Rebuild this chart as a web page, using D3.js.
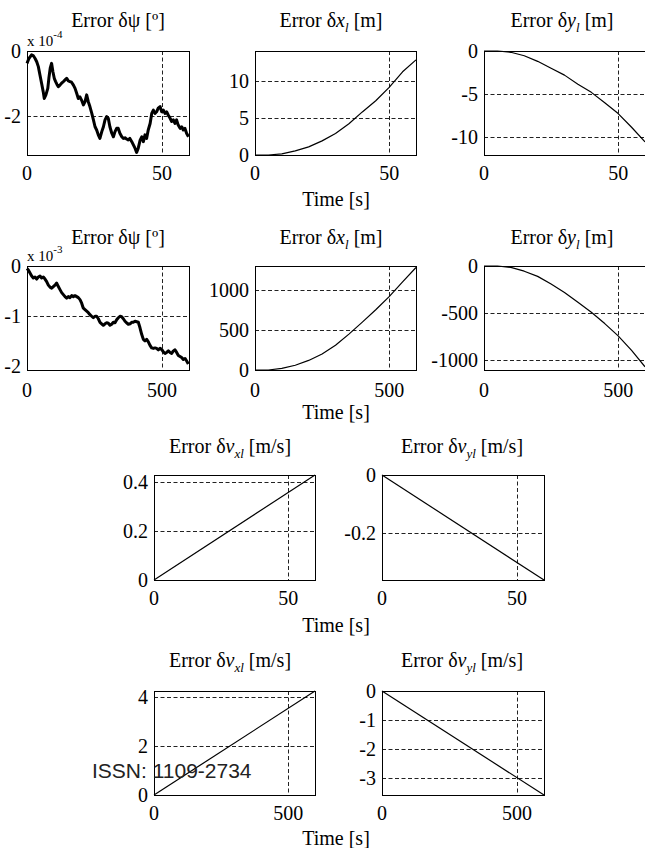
<!DOCTYPE html>
<html>
<head>
<meta charset="utf-8">
<script src="https://cdn.jsdelivr.net/npm/d3@7"></script>
<style>
  body { margin: 0; background: #fff; }
  svg { display: block; font-family: "Liberation Serif", "Times New Roman", serif; }
</style>
</head>
<body>
<svg id="chart" width="645" height="848"></svg>
<script>
// heading error, short run (x 1e-4 deg)
const psiShortT = [0,0.7,1.7,2.3,3.0,3.6,4.2,4.8,5.4,6.0,6.4,7.0,7.7,8.1,8.6,9.1,9.6,10.1,10.6,11.1,11.6,12.2,12.8,13.5,14.1,14.7,15.3,15.9,16.5,17.2,17.8,18.4,19.0,19.6,20.2,20.9,21.5,22.1,22.7,23.3,24.0,24.6,25.2,25.8,26.4,27.0,27.7,28.3,28.9,29.5,30.1,30.7,31.4,32.0,32.6,33.2,33.8,34.4,35.1,35.7,36.3,36.9,37.5,38.1,38.8,39.4,40.0,40.6,41.2,41.9,42.5,43.1,43.7,44.3,44.9,45.6,46.2,46.8,47.4,48.0,48.6,49.3,49.9,50.5,51.1,51.7,52.3,53.0,53.6,54.2,54.8,55.4,56.0,56.7,57.3,57.9,58.5,59.1,59.8];
const psiShortV = [-0.38,-0.23,-0.12,-0.14,-0.23,-0.33,-0.48,-0.74,-0.99,-1.25,-1.46,-1.35,-1.15,-0.84,-0.53,-0.38,-0.64,-0.84,-0.94,-1.03,-1.10,-1.05,-0.99,-0.94,-0.89,-0.84,-0.92,-0.94,-0.96,-1.05,-1.15,-1.30,-1.46,-1.41,-1.51,-1.66,-1.56,-1.35,-1.56,-1.71,-1.92,-2.12,-2.33,-2.43,-2.58,-2.69,-2.48,-2.33,-2.12,-2.02,-2.07,-2.33,-2.53,-2.64,-2.48,-2.38,-2.38,-2.53,-2.64,-2.69,-2.67,-2.71,-2.74,-2.69,-2.79,-2.89,-2.99,-3.12,-2.99,-2.74,-2.64,-2.79,-2.58,-2.69,-2.43,-2.23,-1.92,-1.82,-1.92,-1.87,-1.76,-1.71,-1.87,-1.82,-1.92,-1.87,-1.97,-2.07,-2.17,-2.12,-2.23,-2.12,-2.28,-2.38,-2.33,-2.43,-2.38,-2.53,-2.64];

// heading error, long run (x 1e-3 deg)
const psiLongT = [0,4.9,11.1,17.3,23.5,29.6,35.8,42.0,48.1,54.3,60.5,66.7,72.8,79.0,85.2,91.4,97.5,103.7,109.9,116.0,122.2,128.4,134.6,140.7,146.9,153.1,159.3,165.4,171.6,177.8,184.0,190.1,196.3,202.5,208.6,214.8,221.0,227.2,233.3,239.5,245.7,251.9,258.0,264.2,270.4,276.5,282.7,288.9,295.1,301.2,307.4,313.6,319.8,325.9,332.1,338.3,344.4,350.6,356.8,363.0,369.1,375.3,381.5,387.7,393.8,400.0,406.2,412.3,418.5,424.7,430.9,437.0,443.2,449.4,455.6,461.7,467.9,474.1,480.2,486.4,492.6,498.8,504.9,511.1,517.3,523.5,529.6,535.8,542.0,548.1,554.3,560.5,566.7,572.8,579.0,585.2,591.4,597.5];
const psiLongV = [-0.05,-0.08,-0.14,-0.20,-0.24,-0.22,-0.26,-0.22,-0.20,-0.24,-0.22,-0.26,-0.31,-0.38,-0.42,-0.44,-0.41,-0.38,-0.34,-0.41,-0.47,-0.53,-0.57,-0.61,-0.64,-0.61,-0.63,-0.59,-0.61,-0.59,-0.61,-0.63,-0.67,-0.74,-0.84,-0.87,-0.90,-0.93,-0.97,-1.00,-1.03,-1.00,-1.00,-1.05,-1.12,-1.15,-1.18,-1.15,-1.13,-1.14,-1.18,-1.16,-1.12,-1.13,-1.07,-1.03,-1.00,-1.01,-1.05,-1.10,-1.13,-1.16,-1.15,-1.12,-1.12,-1.10,-1.11,-1.12,-1.23,-1.36,-1.46,-1.49,-1.46,-1.51,-1.58,-1.63,-1.64,-1.63,-1.64,-1.67,-1.64,-1.66,-1.71,-1.74,-1.72,-1.69,-1.72,-1.74,-1.69,-1.67,-1.72,-1.78,-1.80,-1.82,-1.86,-1.84,-1.89,-1.95];

// position errors
const timeShort = [0,5,10,15,20,25,30,35,40,45,50,55,60];
const timeLong = [0,50,100,150,200,250,300,350,400,450,500,550,600];
const xShort = [0,0,0.15,0.55,1.1,1.9,2.9,4.2,5.8,7.3,9.1,11.2,12.8];
const yShort = [0,0,-0.15,-0.55,-1.2,-2.0,-2.8,-3.85,-4.8,-6.0,-7.26,-8.85,-10.55];
const xLong = [0,0,20,60,120,200,310,450,600,755,920,1105,1285];
const yLong = [0,0,-15,-55,-110,-190,-280,-385,-490,-610,-740,-895,-1068];

// velocity errors (straight lines)
const velShortT = [0,60];
const velLongT = [0,600];
const vxShort = [0,0.428];
const vyShort = [0,-0.362];
const vxLong = [0,4.24];
const vyLong = [0,-3.6];

const svg = d3.select('#chart');

// title pieces: [text, style] style: n normal, i italic, s italic subscript
const titlePsi = [['Error δψ [º]','n']];
const titleX = [['Error δ','n'],['x','i'],['l','s'],[' [m]','n']];
const titleY = [['Error δ','n'],['y','i'],['l','s'],[' [m]','n']];
const titleVx = [['Error δ','n'],['v','i'],['xl','s'],[' [m/s]','n']];
const titleVy = [['Error δ','n'],['v','i'],['yl','s'],[' [m/s]','n']];

const panels = [
  { box: [27, 51, 189, 155], xd: [0, 60], yd: [-3.2, 0], xt: [0, 50], yt: [0, -2], gx: [50], gy: [-2],
    t: psiShortT, v: psiShortV, thick: true, title: titlePsi, tx: 118, ty: 27, exp: '-4' },
  { box: [255, 51, 416, 155], xd: [0, 60], yd: [0, 14], xt: [0, 50], yt: [0, 5, 10], gx: [50], gy: [5, 10],
    t: timeShort, v: xShort, title: titleX, tx: 331, ty: 27 },
  { box: [484, 51, 645, 155], xd: [0, 60], yd: [-12.07, 0], xt: [0, 50], yt: [0, -5, -10], gx: [50], gy: [-5, -10],
    t: timeShort, v: yShort, title: titleY, tx: 562, ty: 27 },
  { box: [27, 266, 189, 370], xd: [0, 600], yd: [-2.07, 0], xt: [0, 500], yt: [0, -1, -2], gx: [500], gy: [-1],
    t: psiLongT, v: psiLongV, thick: true, title: titlePsi, tx: 118, ty: 244, exp: '-3', xlab: 27 },
  { box: [255, 266, 416, 370], xd: [0, 600], yd: [0, 1304], xt: [0, 500], yt: [0, 500, 1000], gx: [500], gy: [500, 1000],
    t: timeLong, v: xLong, title: titleX, tx: 331, ty: 244, xlab: 27 },
  { box: [484, 266, 645, 370], xd: [0, 600], yd: [-1102, 0], xt: [0, 500], yt: [0, -500, -1000], gx: [500], gy: [-500, -1000],
    t: timeLong, v: yLong, title: titleY, tx: 562, ty: 244, xlab: 27 },
  { box: [154, 475, 315, 580], xd: [0, 60], yd: [0, 0.428], xt: [0, 50], yt: [0, 0.2, 0.4], gx: [50], gy: [0.2, 0.4],
    t: velShortT, v: vxShort, title: titleVx, tx: 230, ty: 453, fmt: d3.format('.1f') },
  { box: [382, 475, 544, 580], xd: [0, 60], yd: [-0.362, 0], xt: [0, 50], yt: [0, -0.2], gx: [50], gy: [-0.2],
    t: velShortT, v: vyShort, title: titleVy, tx: 462, ty: 453, fmt: d3.format('.1f') },
  { box: [154, 691, 315, 795], xd: [0, 600], yd: [0, 4.24], xt: [0, 500], yt: [0, 2, 4], gx: [500], gy: [2, 4],
    t: velLongT, v: vxLong, title: titleVx, tx: 230, ty: 667 },
  { box: [382, 691, 544, 795], xd: [0, 600], yd: [-3.6, 0], xt: [0, 500], yt: [0, -1, -2, -3], gx: [500], gy: [-1, -2, -3],
    t: velLongT, v: vyLong, title: titleVy, tx: 462, ty: 667 }
];

// x-axis captions under the middle of each row
const timeLabels = [
  { x: 336, y: 206 }, { x: 336, y: 419 }, { x: 336, y: 632 }, { x: 336, y: 845 }
];

function fmtTick(fmt, d) {
  if (d === 0) return '0';
  const s = fmt ? fmt(d) : String(d);
  return s.replace('−', '-');
}

function drawTitle(p) {
  const txt = svg.append('text')
    .attr('x', p.tx).attr('y', p.ty)
    .attr('text-anchor', 'middle')
    .attr('font-size', 20);
  let down = false;
  p.title.forEach(([s, st]) => {
    const ts = txt.append('tspan').text(s);
    if (st === 'i') ts.attr('font-style', 'italic');
    if (st === 's') {
      ts.attr('font-style', 'italic').attr('font-size', 13).attr('dy', 5);
      down = true;
    } else if (down) {
      ts.attr('dy', -5);
      down = false;
    }
  });
}

function drawPanel(p) {
  const [x0, y0, x1, y1] = p.box;
  const x = d3.scaleLinear().domain(p.xd).range([x0, x1]);
  const y = d3.scaleLinear().domain(p.yd).range([y1, y0]);
  const g = svg.append('g');

  // grid
  g.selectAll('.gy').data(p.gy).enter().append('line')
    .attr('x1', x0).attr('x2', x1)
    .attr('y1', d => Math.round(y(d)) + 0.5).attr('y2', d => Math.round(y(d)) + 0.5)
    .attr('stroke', '#222').attr('stroke-width', 1).attr('stroke-dasharray', '4,2.5');
  g.selectAll('.gx').data(p.gx).enter().append('line')
    .attr('y1', y0).attr('y2', y1)
    .attr('x1', d => Math.round(x(d)) + 0.5).attr('x2', d => Math.round(x(d)) + 0.5)
    .attr('stroke', '#222').attr('stroke-width', 1).attr('stroke-dasharray', '4,2.5');

  // curve
  const pts = p.t.map((t, i) => [t, p.v[i]]);
  g.append('path')
    .datum(pts)
    .attr('d', d3.line().x(d => x(d[0])).y(d => y(d[1])))
    .attr('fill', 'none')
    .attr('stroke', '#000')
    .attr('stroke-width', p.thick ? 3 : 1.2)
    .attr('stroke-linejoin', 'round');

  // frame
  g.append('rect')
    .attr('x', x0 + 0.5).attr('y', y0 + 0.5)
    .attr('width', x1 - x0).attr('height', y1 - y0)
    .attr('fill', 'none').attr('stroke', '#000').attr('stroke-width', 1);

  // y tick labels
  g.selectAll('.yl').data(p.yt).enter().append('text')
    .attr('x', x0 - 6).attr('y', d => y(d) + 7)
    .attr('text-anchor', 'end').attr('font-size', 20)
    .text(d => fmtTick(p.fmt, d));

  // x tick labels
  g.selectAll('.xl').data(p.xt).enter().append('text')
    .attr('x', d => x(d)).attr('y', y1 + (p.xlab || 25))
    .attr('text-anchor', 'middle').attr('font-size', 20)
    .text(d => fmtTick(null, d));

  // exponent label
  if (p.exp) {
    const e = g.append('text')
      .attr('x', x0).attr('y', y0 - 5)
      .attr('font-size', 15);
    e.append('tspan').text('x 10');
    e.append('tspan').attr('font-size', 11).attr('dy', -8).text(p.exp);
  }

  drawTitle(p);
}

panels.forEach(drawPanel);

svg.selectAll('.time').data(timeLabels).enter().append('text')
  .attr('x', d => d.x).attr('y', d => d.y)
  .attr('text-anchor', 'middle').attr('font-size', 20)
  .text('Time [s]');

// journal stamp over the lower-left panel
svg.append('text')
  .attr('x', 92).attr('y', 778)
  .attr('font-family', '"Liberation Sans", Arial, sans-serif')
  .attr('font-size', 21)
  .attr('fill', '#222')
  .text('ISSN: 1109-2734');
</script>
</body>
</html>
